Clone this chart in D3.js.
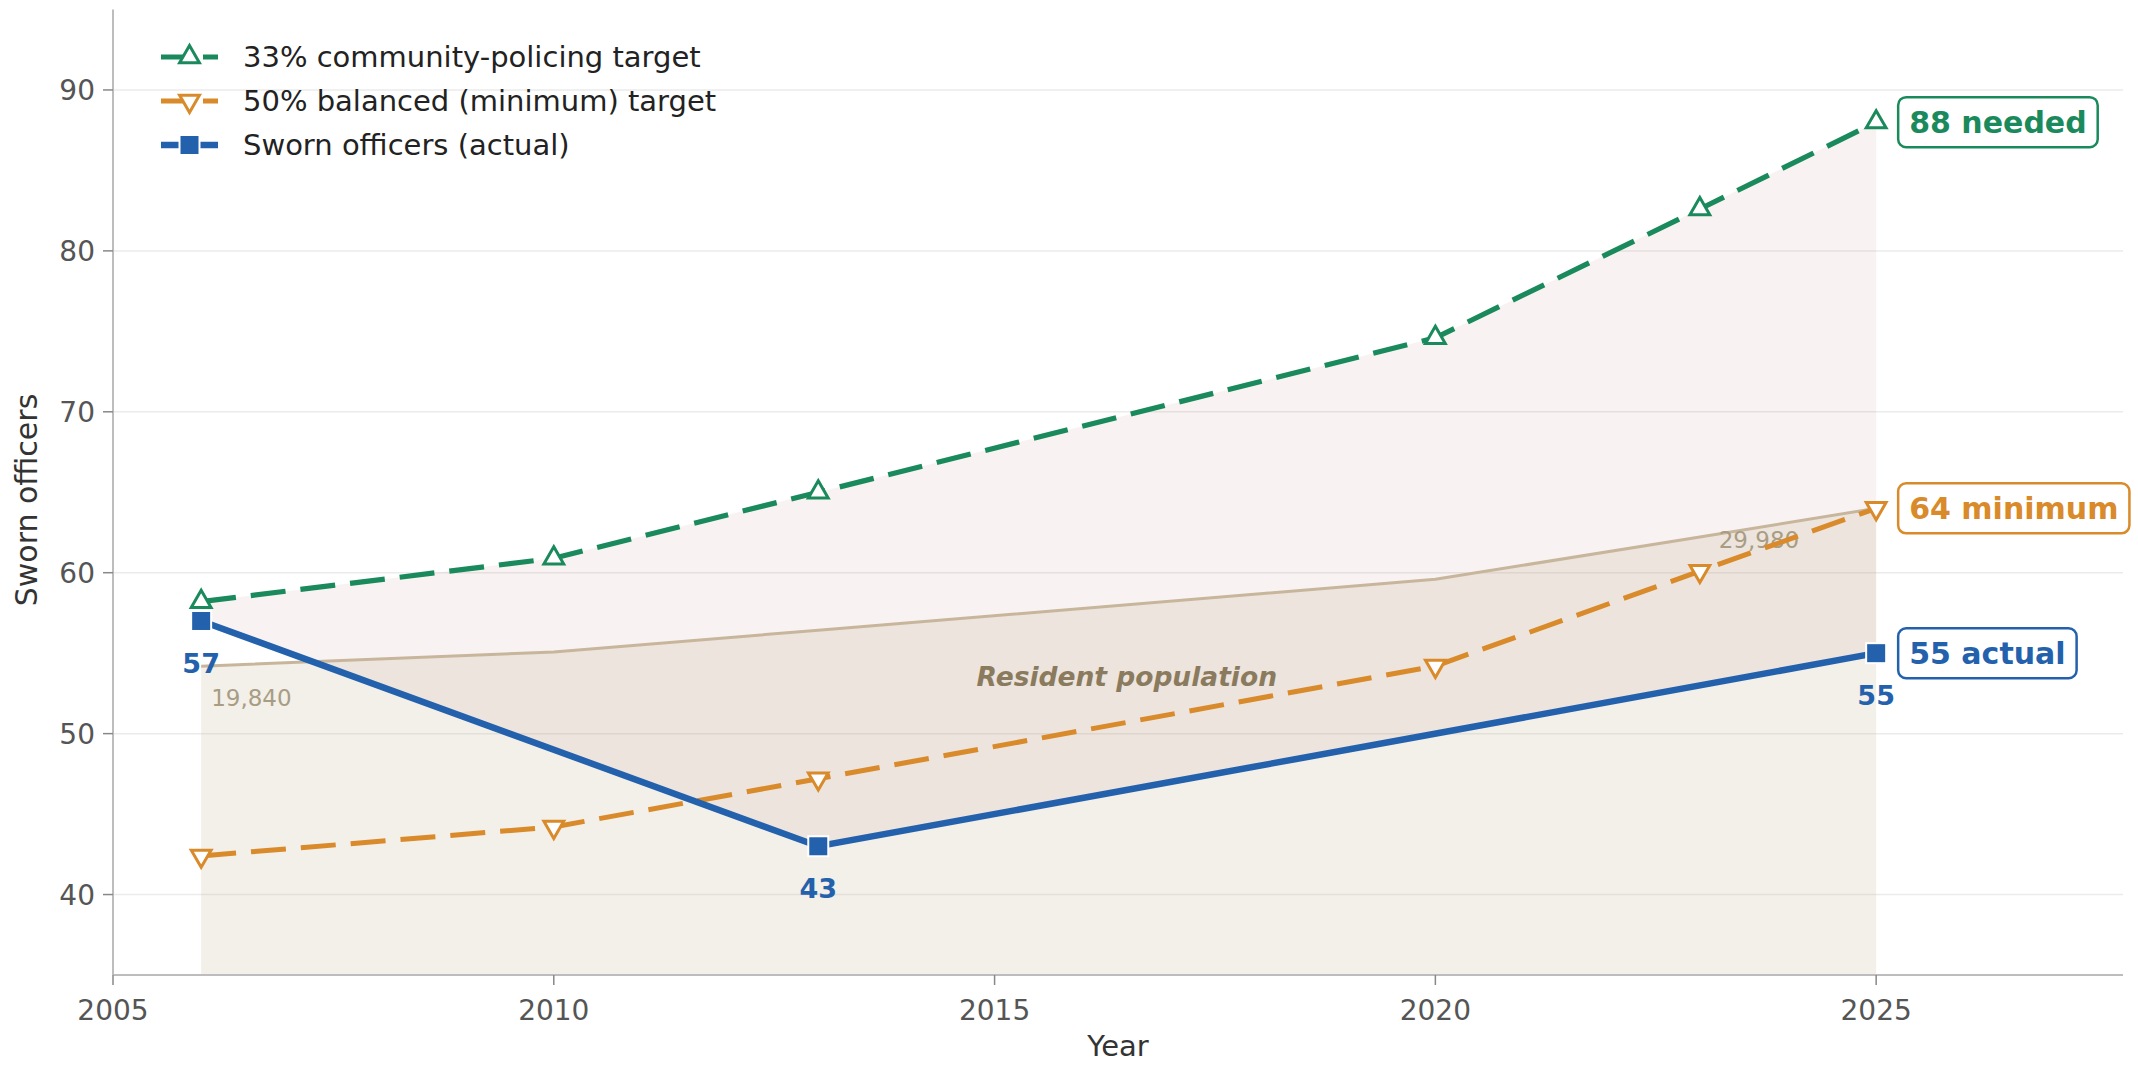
<!DOCTYPE html>
<html><head><meta charset="utf-8">
<script src="https://cdn.jsdelivr.net/npm/d3@7"></script>
<style>body{margin:0;background:#fff} svg{display:block;font-family:"DejaVu Sans",sans-serif}</style>
</head><body><svg id="c" width="2138" height="1065"></svg>
<script>
// ---- data ----
const years = [2006, 2010, 2013, 2020, 2023, 2025];
const target33 = [58.2, 60.9, 65.0, 74.6, 82.6, 88.0];
const target50 = [42.4, 44.2, 47.2, 54.2, 60.1, 64.0];
const actualYears = [2006, 2013, 2025];
const actual = [57, 43, 55];
const population = [19840, 20750, 22150, 25420, 28140, 29980];
const xTicks = [2005, 2010, 2015, 2020, 2025];
const yTicks = [40, 50, 60, 70, 80, 90];
const legendLabels = ["33% community-policing target", "50% balanced (minimum) target", "Sworn officers (actual)"];
const endLabels = ["88 needed", "64 minimum", "55 actual"];
const popLabels = ["19,840", "29,980"];

const C_GREEN = "#1a8a5c", C_ORANGE = "#d98a2a", C_BLUE = "#2461ad";
const C_POP = "#c8b69c", C_POPTXT = "#a89d84", C_POPLBL = "#8b7b5e";

const svg = d3.select("#c");
const x = d3.scaleLinear().domain([2005, 2027.8]).range([113, 2123]);
const y = d3.scaleLinear().domain([35, 95]).range([975, 9.5]);
// population drawn on the officer axis, scaled from the axis floor
const popScale = d3.scaleLinear().domain([0, population[population.length - 1]]).range([35, target50[target50.length - 1]]);

const tg = years.map((yr, i) => ({x: yr, g: target33[i], o: target50[i], p: popScale(population[i])}));
const ac = actualYears.map((yr, i) => ({x: yr, v: actual[i]}));

// grid
svg.append("g").selectAll("line").data(yTicks).join("line")
  .attr("x1", x(2005)).attr("x2", x(2027.8))
  .attr("y1", d => y(d)).attr("y2", d => y(d))
  .attr("stroke", "#ebebeb").attr("stroke-width", 1.5);

// population area
svg.append("path").datum(tg)
  .attr("d", d3.area().x(d => x(d.x)).y0(y(35)).y1(d => y(d.p)))
  .attr("fill", "#c8b89a").attr("fill-opacity", 0.22);

// gap area between target and actual (polygon)
const poly = tg.map(d => [x(d.x), y(d.g)]).concat(ac.slice().reverse().map(d => [x(d.x), y(d.v)]));
svg.append("path").attr("d", "M" + poly.map(p => p.join(",")).join("L") + "Z")
  .attr("fill", "#a0605a").attr("fill-opacity", 0.08);

// population line
svg.append("path").datum(tg)
  .attr("d", d3.line().x(d => x(d.x)).y(d => y(d.p)))
  .attr("fill", "none").attr("stroke", C_POP).attr("stroke-width", 3);

svg.append("text").attr("x", x(years[0]) + 10).attr("y", y(tg[0].p) + 40)
  .attr("font-size", 23).attr("fill", C_POPTXT).text(popLabels[0]);
svg.append("text").attr("x", x(years[years.length - 1]) - 77).attr("y", y(tg[tg.length - 1].p) + 40)
  .attr("text-anchor", "end").attr("font-size", 23).attr("fill", C_POPTXT).text(popLabels[1]);
svg.append("text").attr("x", x(2016.5)).attr("y", y(53.5) + 9)
  .attr("text-anchor", "middle").attr("font-size", 26.5).attr("font-weight", "bold")
  .attr("font-style", "italic").attr("fill", C_POPLBL).text("Resident population");

// lines
const line = (acc) => d3.line().x(d => x(d.x)).y(acc);
svg.append("path").datum(tg).attr("d", line(d => y(d.o)))
  .attr("fill", "none").attr("stroke", C_ORANGE).attr("stroke-width", 5)
  .attr("stroke-dasharray", "35,15");
svg.append("path").datum(tg).attr("d", line(d => y(d.g)))
  .attr("fill", "none").attr("stroke", C_GREEN).attr("stroke-width", 5.2)
  .attr("stroke-dasharray", "35,15");
svg.append("path").datum(ac).attr("d", line(d => y(d.v)))
  .attr("fill", "none").attr("stroke", C_BLUE).attr("stroke-width", 6.5);

// markers
const tri = d3.symbol().type(d3.symbolTriangle).size(170);
svg.append("g").selectAll("path").data(tg).join("path")
  .attr("d", tri).attr("transform", d => `translate(${x(d.x)},${y(d.o)}) rotate(180)`)
  .attr("fill", "#fff").attr("stroke", C_ORANGE).attr("stroke-width", 3);
svg.append("g").selectAll("path").data(tg).join("path")
  .attr("d", tri).attr("transform", d => `translate(${x(d.x)},${y(d.g)})`)
  .attr("fill", "#fff").attr("stroke", C_GREEN).attr("stroke-width", 3);
svg.append("g").selectAll("rect").data(ac).join("rect")
  .attr("x", d => x(d.x) - 10).attr("y", d => y(d.v) - 10)
  .attr("width", 20).attr("height", 20)
  .attr("fill", C_BLUE).attr("stroke", "#fff").attr("stroke-width", 2);

// actual value labels
svg.append("g").selectAll("text").data(ac).join("text")
  .attr("x", d => x(d.x)).attr("y", d => y(d.v) + 52)
  .attr("text-anchor", "middle").attr("font-size", 27).attr("font-weight", "bold")
  .attr("fill", C_BLUE).text(d => d.v);

// end labels
const ends = [
  {v: target33[target33.length - 1], t: endLabels[0], c: C_GREEN},
  {v: target50[target50.length - 1], t: endLabels[1], c: C_ORANGE},
  {v: actual[actual.length - 1], t: endLabels[2], c: C_BLUE}
];
ends.forEach(e => {
  const g = svg.append("g");
  const bx = x(2025) + 22, cy = y(e.v);
  const rect = g.append("rect");
  const t = g.append("text").attr("x", bx + 11).attr("y", cy + 10.5)
    .attr("font-size", 30).attr("font-weight", "bold").attr("fill", e.c).text(e.t);
  const w = t.node().getComputedTextLength();
  rect.attr("x", bx).attr("y", cy - 25).attr("width", w + 22).attr("height", 50)
    .attr("rx", 8).attr("fill", "#fff").attr("stroke", e.c).attr("stroke-width", 2.5);
});

// axes
const ax = svg.append("g").attr("font-size", 28).attr("fill", "#555");
ax.append("line").attr("x1", x(2005)).attr("x2", x(2027.8)).attr("y1", y(35)).attr("y2", y(35))
  .attr("stroke", "#bdbdbd").attr("stroke-width", 2);
ax.append("line").attr("x1", x(2005)).attr("x2", x(2005)).attr("y1", y(35)).attr("y2", y(95))
  .attr("stroke", "#bdbdbd").attr("stroke-width", 2);
xTicks.forEach(t => {
  ax.append("line").attr("x1", x(t)).attr("x2", x(t)).attr("y1", y(35)).attr("y2", y(35) + 10)
    .attr("stroke", "#888").attr("stroke-width", 1.5);
  ax.append("text").attr("x", x(t)).attr("y", 1020).attr("text-anchor", "middle").text(t);
});
yTicks.forEach(t => {
  ax.append("line").attr("x1", x(2005) - 10).attr("x2", x(2005)).attr("y1", y(t)).attr("y2", y(t))
    .attr("stroke", "#888").attr("stroke-width", 1.5);
  ax.append("text").attr("x", 95).attr("y", y(t) + 10).attr("text-anchor", "end").text(t);
});
svg.append("text").attr("x", (x(2005) + x(2027.8)) / 2).attr("y", 1056)
  .attr("text-anchor", "middle").attr("font-size", 29).attr("fill", "#333").text("Year");
svg.append("text").attr("transform", "translate(37,500) rotate(-90)")
  .attr("text-anchor", "middle").attr("font-size", 30).attr("fill", "#333").text("Sworn officers");

// legend
const leg = [
  {c: C_GREEN, dash: "28,14", m: "tri"},
  {c: C_ORANGE, dash: "28,14", m: "tridown"},
  {c: C_BLUE, dash: null, m: "sq"}
];
leg.forEach((l, i) => {
  const cy = 57 + i * 44;
  const g = svg.append("g");
  const ln = g.append("line").attr("x1", 161).attr("x2", 218).attr("y1", cy).attr("y2", cy)
    .attr("stroke", l.c).attr("stroke-width", l.m === "sq" ? 6.5 : 5);
  if (l.dash) ln.attr("stroke-dasharray", l.dash);
  if (l.m === "sq") {
    g.append("rect").attr("x", 179.5).attr("y", cy - 10).attr("width", 20).attr("height", 20)
      .attr("fill", l.c).attr("stroke", "#fff").attr("stroke-width", 2);
  } else {
    g.append("path").attr("d", tri)
      .attr("transform", `translate(189.5,${cy}) rotate(${l.m === "tridown" ? 180 : 0})`)
      .attr("fill", "#fff").attr("stroke", l.c).attr("stroke-width", 3);
  }
  g.append("text").attr("x", 243).attr("y", cy + 10).attr("font-size", 29).attr("fill", "#222")
    .text(legendLabels[i]);
});
</script></body></html>
